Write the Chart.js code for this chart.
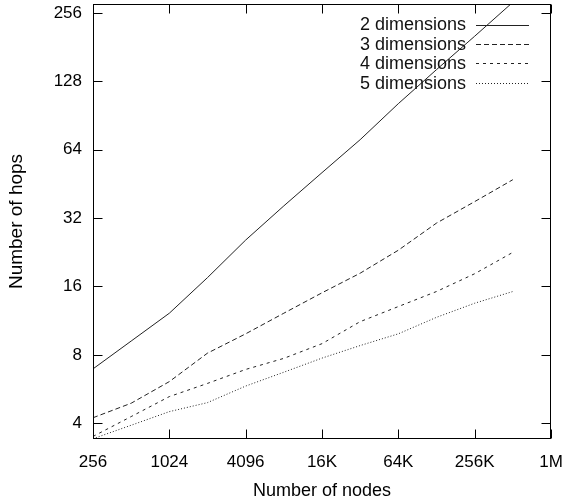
<!DOCTYPE html>
<html>
<head>
<meta charset="utf-8">
<script src="https://cdn.jsdelivr.net/npm/chart.js@4.4.1/dist/chart.umd.min.js"></script>
<style>
  html, body { margin: 0; padding: 0; background: #fff; }
</style>
</head>
<body>
<canvas id="hopsChart" width="567" height="502"></canvas>
<script>
// Datos (eje x: número de nodos, eje y: saltos)
const nodes = [256, 512, 1024, 2048, 4096, 8192, 16384, 32768, 65536, 131072, 262144, 524288];
const hops2d = [6.94, 9.2, 12.2, 17.5, 25.6, 36.2, 50.7, 70.8, 102, 144, 202, 285];
const hops3d = [4.23, 4.9, 6.1, 8.14, 9.9, 12.2, 15.0, 18.3, 23.1, 30.4, 37.8, 47.2];
const hops4d = [3.5, 4.28, 5.24, 5.99, 6.9, 7.72, 8.96, 11.2, 13.05, 15.2, 18.2, 22.6];
const hops5d = [3.42, 3.92, 4.5, 4.93, 5.83, 6.71, 7.74, 8.79, 9.9, 11.7, 13.5, 15.2];
const seriesLabels = ['2 dimensions', '3 dimensions', '4 dimensions', '5 dimensions'];

const xTicks = [256, 1024, 4096, 16384, 65536, 262144, 1048576];
const xTickLabels = ['256', '1024', '4096', '16K', '64K', '256K', '1M'];
const yTicks = [4, 8, 16, 32, 64, 128, 256];
const yTickLabels = ['4', '8', '16', '32', '64', '128', '256'];

const FONT = "'Liberation Sans', Arial, sans-serif";

// Une x e y en puntos
const toPoints = (values) => values.map((v, i) => ({ x: nodes[i], y: v }));

// Caja estilo gnuplot: borde, marcas hacia dentro y leyenda
const gnuplotBox = {
    id: 'gnuplotBox',
    afterDraw(chart) {
        const { ctx, chartArea: a, scales } = chart;
        const tick = 9;
        ctx.save();
        ctx.strokeStyle = '#000';
        ctx.lineWidth = 1;
        ctx.setLineDash([]);
        const L = Math.round(a.left) + 0.5, R = Math.round(a.right) - 0.5;
        const T = Math.round(a.top) + 0.5, B = Math.round(a.bottom) - 0.5;
        ctx.strokeRect(L, T, R - L, B - T);

        ctx.beginPath();
        xTicks.forEach(v => {
            const px = Math.round(scales.x.getPixelForValue(v)) + 0.5;
            ctx.moveTo(px, B); ctx.lineTo(px, B - tick);
            ctx.moveTo(px, T); ctx.lineTo(px, T + tick);
        });
        yTicks.forEach(v => {
            const py = Math.round(scales.y.getPixelForValue(v)) + 0.5;
            ctx.moveTo(L, py); ctx.lineTo(L + tick, py);
            ctx.moveTo(R, py); ctx.lineTo(R - tick, py);
        });
        ctx.stroke();

        // Leyenda: texto a la izquierda, muestra de línea a la derecha
        ctx.font = '18px ' + FONT;
        ctx.textAlign = 'right';
        ctx.textBaseline = 'middle';
        chart.data.datasets.forEach((ds, i) => {
            const y = a.top + 20.5 + i * 19.4;
            ctx.fillStyle = '#111';
            ctx.fillText(ds.label, a.right - 85, y + 1);
            ctx.strokeStyle = ds.borderColor;
            ctx.lineWidth = ds.borderWidth;
            ctx.setLineDash(ds.borderDash || []);
            ctx.beginPath();
            ctx.moveTo(a.right - 75, Math.round(y) + 0.5);
            ctx.lineTo(a.right - 22, Math.round(y) + 0.5);
            ctx.stroke();
        });
        ctx.restore();
    }
};

const makeDataset = (label, values, dash) => ({
    label: label,
    data: toPoints(values),
    borderColor: '#222',
    borderWidth: 1,
    borderDash: dash,
    pointRadius: 0,
    fill: false,
    tension: 0
});

new Chart(document.getElementById('hopsChart').getContext('2d'), {
    type: 'line',
    data: {
        datasets: [
            makeDataset(seriesLabels[0], hops2d, []),
            makeDataset(seriesLabels[1], hops3d, [5, 3]),
            makeDataset(seriesLabels[2], hops4d, [3, 4]),
            makeDataset(seriesLabels[3], hops5d, [1, 2])
        ]
    },
    options: {
        responsive: false,
        animation: false,
        layout: { padding: { top: 4, right: 16, left: 0, bottom: 0 } },
        plugins: {
            legend: { display: false },
            tooltip: { enabled: false }
        },
        scales: {
            x: {
                type: 'logarithmic',
                min: 256,
                max: 1048576,
                grid: { display: false, drawTicks: false },
                border: { display: false },
                afterBuildTicks: (scale) => { scale.ticks = xTicks.map(v => ({ value: v })); },
                afterFit: (scale) => {
                    scale.height = 63;
                    scale.paddingLeft = 0;
                    scale.paddingRight = 0;
                },
                ticks: {
                    autoSkip: false,
                    maxRotation: 0,
                    padding: 13,
                    color: '#000',
                    font: { family: FONT, size: 17 },
                    callback: (v, i) => xTickLabels[i]
                },
                title: {
                    display: true,
                    text: 'Number of nodes',
                    color: '#000',
                    font: { family: FONT, size: 18 },
                    padding: { top: 0, bottom: 0 }
                }
            },
            y: {
                type: 'logarithmic',
                min: 3.41,
                max: 280,
                grid: { display: false, drawTicks: false },
                border: { display: false },
                afterBuildTicks: (scale) => { scale.ticks = yTicks.map(v => ({ value: v })); },
                afterFit: (scale) => {
                    scale.width = 93;
                    scale.paddingTop = 0;
                    scale.paddingBottom = 0;
                },
                ticks: {
                    autoSkip: false,
                    padding: 11,
                    color: '#000',
                    font: { family: FONT, size: 17 },
                    callback: (v, i) => yTickLabels[i]
                },
                title: {
                    display: true,
                    text: 'Number of hops',
                    color: '#000',
                    font: { family: FONT, size: 19 },
                    padding: { top: 5, bottom: 0 }
                }
            }
        }
    },
    plugins: [gnuplotBox]
});
</script>
</body>
</html>
